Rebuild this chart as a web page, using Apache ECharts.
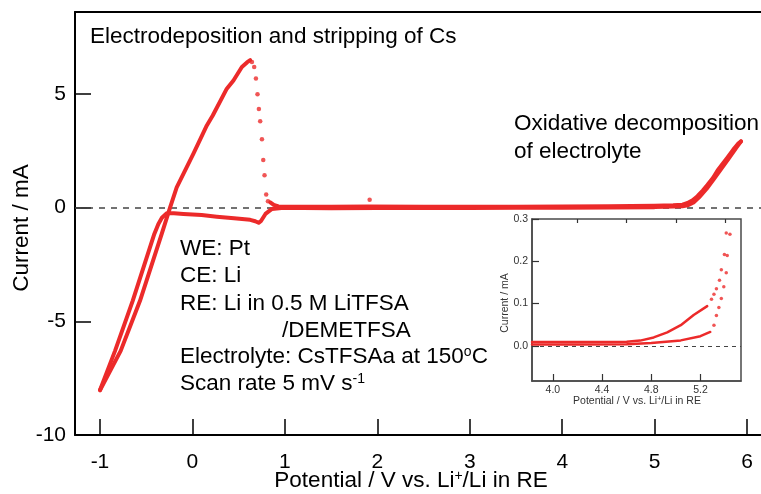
<!DOCTYPE html>
<html>
<head>
  <meta charset="utf-8">
  <title>CV of Cs</title>
  <script src="https://cdn.jsdelivr.net/npm/echarts@6/dist/echarts.min.js"></script>
  <style>
    body { margin: 0; background: #fff; }
    #chart { width: 761px; height: 494px; }
  </style>
</head>
<body>
  <div id="chart"></div>
  <script>
    // main CV, values (V, mA)
    const anodicRise = [
      [-1.0, -8.03], [-0.776, -6.30], [-0.567, -4.10], [-0.332, -1.16], [-0.242, 0.0],
      [-0.17, 0.89], [0.011, 2.37], [0.156, 3.61], [0.22, 4.05], [0.372, 5.23],
      [0.444, 5.59], [0.535, 6.18], [0.59, 6.38], [0.625, 6.48]
    ];
    const strippingDots = [
      [0.644, 6.40], [0.668, 6.18], [0.687, 5.68], [0.704, 4.98], [0.719, 4.33],
      [0.733, 3.80], [0.752, 3.00], [0.766, 2.09], [0.780, 1.42], [0.798, 0.57],
      [0.817, 0.28], [1.917, 0.34]
    ];
    const forwardFlat = [
      [0.842, 0.23], [0.88, 0.12], [0.93, 0.05], [1.2, 0.04], [1.5, 0.04], [1.9, 0.05],
      [2.5, 0.04], [3.0, 0.04], [3.5, 0.04], [4.0, 0.05], [4.5, 0.06], [5.0, 0.08],
      [5.2, 0.10], [5.3, 0.13], [5.356, 0.20], [5.41, 0.32], [5.463, 0.50], [5.52, 0.75],
      [5.572, 1.00], [5.63, 1.30], [5.68, 1.63], [5.74, 1.95], [5.79, 2.22], [5.85, 2.55],
      [5.9, 2.80], [5.934, 2.91]
    ];
    const reverseScan = [
      [5.934, 2.91], [5.88, 2.62], [5.8, 2.15], [5.72, 1.70], [5.64, 1.25], [5.56, 0.82],
      [5.48, 0.45], [5.42, 0.22], [5.36, 0.10], [5.3, 0.06], [5.0, 0.02], [4.5, 0.0],
      [4.0, -0.01], [3.5, -0.01], [3.0, -0.02], [2.5, -0.02], [2.0, -0.02], [1.5, -0.03],
      [1.2, -0.02], [0.99, -0.01], [0.86, -0.06], [0.79, -0.28], [0.74, -0.60],
      [0.716, -0.67], [0.68, -0.60], [0.625, -0.54], [0.45, -0.47], [0.264, -0.40],
      [0.1, -0.33], [-0.097, -0.28], [-0.2, -0.25], [-0.277, -0.25], [-0.33, -0.45],
      [-0.368, -0.72], [-0.412, -1.16], [-0.646, -4.10], [-0.837, -6.30], [-1.0, -8.03]
    ];

    // inset (V, mA)
    const insetUpperLine = [
      [3.83, 0.009], [4.2, 0.009], [4.6, 0.010], [4.71, 0.0125], [4.82, 0.020],
      [4.93, 0.032], [5.04, 0.049], [5.145, 0.073], [5.255, 0.094]
    ];
    const insetUpperDots = [
      [5.29, 0.110], [5.31, 0.122], [5.33, 0.135], [5.355, 0.155], [5.37, 0.180],
      [5.395, 0.216], [5.41, 0.267]
    ];
    const insetLowerLine = [
      [3.83, 0.003], [4.2, 0.003], [4.6, 0.004], [4.8, 0.007], [5.04, 0.013],
      [5.2, 0.023], [5.28, 0.033]
    ];
    const insetLowerDots = [
      [5.31, 0.049], [5.33, 0.072], [5.35, 0.091], [5.37, 0.112], [5.39, 0.140],
      [5.41, 0.173], [5.418, 0.214], [5.44, 0.264]
    ];

    const mainXTicks = [-1, 0, 1, 2, 3, 4, 5, 6];
    const mainYTicks = [-10, -5, 0, 5];
    const insetXTicks = [4.0, 4.4, 4.8, 5.2];
    const insetXMinor = [4.2, 4.6, 5.0, 5.4];
    const insetYTicks = [0, 0.1, 0.2, 0.3];

    const RED = '#ec2a2a';
    const FONT = '"Liberation Sans", Arial, Helvetica, sans-serif';
    const BIG = '22.5px ' + FONT;

    function lineSeries(data, xi, yi, w) {
      return {
        type: 'line', xAxisIndex: xi, yAxisIndex: yi, data: data,
        showSymbol: false, symbol: 'none', smooth: false, silent: true,
        lineStyle: { color: RED, width: w, cap: 'round', join: 'round' },
        z: 3
      };
    }
    function dotSeries(data, xi, yi, size) {
      return {
        type: 'scatter', xAxisIndex: xi, yAxisIndex: yi, data: data,
        symbolSize: size, silent: true,
        itemStyle: { color: RED }, z: 3
      };
    }
    function label(x, y, text, extra) {
      return Object.assign({ type: 'text', x: x, y: y, style: {
        text: text, font: BIG, fill: '#000', textAlign: 'left', textVerticalAlign: 'middle',
        rich: { sup: { fontSize: 14, fontFamily: FONT, verticalAlign: 'top', fill: '#000' } }
      } }, extra || {});
    }

    const myChart = echarts.init(document.getElementById('chart'), null, { renderer: 'canvas' });
    const option = {
      animation: false,
      backgroundColor: '#fff',
      textStyle: { fontFamily: FONT },
      grid: [
        { left: 75, top: 12, right: 0, bottom: 59 },
        { left: 532, top: 219, width: 209, height: 162, show: true,
          backgroundColor: '#fff', borderColor: '#4a4a4a', borderWidth: 1.5, z: 5 }
      ],
      xAxis: [
        {
          gridIndex: 0, type: 'value', min: -1.27, max: 6.15,
          axisLine: { onZero: false, lineStyle: { color: '#000', width: 2 } },
          axisTick: { inside: true, length: 16, customValues: mainXTicks,
            lineStyle: { color: '#000', width: 1.5 } },
          axisLabel: { customValues: mainXTicks, fontSize: 21, color: '#000',
            margin: 17, fontFamily: FONT },
          splitLine: { show: false }
        },
        {
          gridIndex: 0, type: 'value', position: 'top', min: -1.27, max: 6.15,
          axisLine: { show: true, onZero: false, lineStyle: { color: '#000', width: 2 } },
          axisTick: { show: false }, axisLabel: { show: false }, splitLine: { show: false }
        },
        {
          gridIndex: 1, type: 'value', min: 3.83, max: 5.53, z: 6,
          axisLine: { onZero: false, lineStyle: { color: '#4a4a4a', width: 1.5 } },
          axisTick: { inside: true, length: 7, customValues: insetXTicks,
            lineStyle: { color: '#333', width: 1.2 } },
          axisLabel: { customValues: insetXTicks, fontSize: 10.5, color: '#333', margin: 4,
            fontFamily: FONT, formatter: v => v.toFixed(1) },
          splitLine: { show: false }
        },
        {
          gridIndex: 1, type: 'value', min: 3.83, max: 5.53, z: 6,
          axisLine: { show: false, onZero: false },
          axisTick: { inside: true, length: 4, customValues: insetXMinor,
            lineStyle: { color: '#333', width: 1.2 } },
          axisLabel: { show: false }, splitLine: { show: false }
        }
      ],
      yAxis: [
        {
          gridIndex: 0, type: 'value', min: -10, max: 8.6,
          axisLine: { onZero: false, lineStyle: { color: '#000', width: 2 } },
          axisTick: { inside: true, length: 16, customValues: mainYTicks,
            lineStyle: { color: '#000', width: 1.5 } },
          axisLabel: { customValues: mainYTicks, fontSize: 21, color: '#000',
            margin: 9, fontFamily: FONT },
          splitLine: { show: false }
        },
        {
          gridIndex: 1, type: 'value', min: -0.083, max: 0.3, z: 6,
          axisLine: { onZero: false, lineStyle: { color: '#4a4a4a', width: 1.5 } },
          axisTick: { inside: true, length: 7, customValues: insetYTicks,
            lineStyle: { color: '#333', width: 1.2 } },
          axisLabel: { customValues: insetYTicks, fontSize: 10.5, color: '#333', margin: 4,
            fontFamily: FONT, formatter: v => v.toFixed(1) },
          splitLine: { show: false }
        }
      ],
      series: [
        Object.assign(lineSeries(anodicRise, 0, 0, 4), {
          markLine: {
            silent: true, symbol: 'none', label: { show: false },
            lineStyle: { color: '#444', width: 1.5, type: [6, 6] },
            data: [{ yAxis: 0 }], z: 1
          }
        }),
        dotSeries(strippingDots, 0, 0, 4.5),
        lineSeries(forwardFlat, 0, 0, 4),
        lineSeries(reverseScan, 0, 0, 4),
        Object.assign(lineSeries(insetUpperLine, 2, 1, 2.5), {
          z: 7,
          markLine: {
            silent: true, symbol: 'none', label: { show: false },
            lineStyle: { color: '#444', width: 1.2, type: [4, 4] },
            data: [{ yAxis: 0 }]
          }
        }),
        Object.assign(dotSeries(insetUpperDots, 2, 1, 3.5), { z: 7 }),
        Object.assign(lineSeries(insetLowerLine, 2, 1, 2.5), { z: 7 }),
        Object.assign(dotSeries(insetLowerDots, 2, 1, 3.5), { z: 7 })
      ],
      graphic: [
        label(90, 37, 'Electrodeposition and stripping of Cs'),
        label(514, 124, 'Oxidative decomposition'),
        label(514, 152, 'of electrolyte'),
        label(180, 249, 'WE: Pt'),
        label(180, 276, 'CE: Li'),
        label(180, 304, 'RE: Li in 0.5 M LiTFSA'),
        label(282, 331, '/DEMETFSA'),
        label(180, 357, 'Electrolyte: CsTFSAa at 150{sup|o}C'),
        label(180, 384, 'Scan rate 5 mV s{sup|-1}'),
        { type: 'text', x: 411, y: 481, style: { text: 'Potential / V vs. Li{sup|+}/Li in RE',
          font: BIG, fill: '#000', textAlign: 'center', textVerticalAlign: 'middle',
          rich: { sup: { fontSize: 14, fontFamily: FONT, verticalAlign: 'top', fill: '#000' } } } },
        { type: 'text', x: 22, y: 228, rotation: Math.PI / 2, style: { text: 'Current / mA',
          font: BIG, fill: '#000', textAlign: 'center', textVerticalAlign: 'middle' } },
        { type: 'text', x: 637, y: 401, z: 10, style: { text: 'Potential / V vs. Li{sup|+}/Li in RE',
          font: '10.5px ' + FONT, fill: '#333', textAlign: 'center', textVerticalAlign: 'middle',
          rich: { sup: { fontSize: 7, fontFamily: FONT, verticalAlign: 'top', fill: '#333' } } } },
        { type: 'text', x: 505, y: 303, z: 10, rotation: Math.PI / 2, style: { text: 'Current / mA',
          font: '10.5px ' + FONT, fill: '#333', textAlign: 'center', textVerticalAlign: 'middle' } }
      ]
    };
    myChart.setOption(option);
  </script>
</body>
</html>
